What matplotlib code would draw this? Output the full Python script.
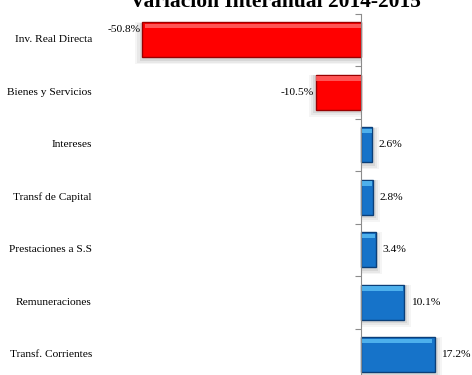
import matplotlib.pyplot as plt
import numpy as np

# variación interanual por concepto de gasto
categorias = ["Inv. Real Directa", "Bienes y Servicios", "Intereses",
              "Transf de Capital", "Prestaciones a S.S", "Remuneraciones",
              "Transf. Corrientes"]
variacion = [-50.8, -10.5, 2.6, 2.8, 3.4, 10.1, 17.2]

plt.rcParams['font.family'] = ['Liberation Serif', 'DejaVu Serif']

fig = plt.figure(figsize=(4.72, 3.75), dpi=100)
ax = fig.add_axes([100 / 472, -0.016, 372 / 472, 0.98])

y = np.arange(len(categorias))
alto = 0.66

for yi, v in zip(y, variacion):
    if v < 0:
        cara, borde, brillo = "#ff0000", "#9a0000", "#ff6a6a"
    else:
        cara, borde, brillo = "#1673c9", "#0b3f78", "#5cc0f5"
    # sombra difusa
    for k, a in enumerate([0.07, 0.05, 0.04]):
        d = 0.6 + k * 0.5
        ax.barh(yi + 0.04 + k * 0.015, v + np.sign(v) * d, height=alto + 0.06 + k * 0.04,
                color="black", alpha=a, lw=0, zorder=1)
    ax.barh(yi, v, height=alto, color=cara, edgecolor=borde, lw=1.0, zorder=2)
    # brillo superior del bisel
    ax.barh(yi - alto / 2 + 0.07, v * 0.96 if v > 0 else v * 0.985, height=0.09,
            color=brillo, lw=0, alpha=0.8, zorder=3)
    if v < 0:
        ax.text(v - 0.4, yi - (0.2 if v < -40 else 0), f"{v:.1f}%", ha="right",
                va="center", fontsize=8.2, zorder=4)
    else:
        ax.text(v + 1.5, yi, f"{v:.1f}%", ha="left", va="center",
                fontsize=8.2, zorder=4)

ax.set_xlim(-60.6, 25.8)
ax.set_ylim(len(categorias) - 0.5, -0.5)

for s in ["top", "right", "bottom"]:
    ax.spines[s].set_visible(False)
ax.spines["left"].set_position(("data", 0))
ax.spines["left"].set_color("#8c8c8c")
ax.spines["left"].set_zorder(5)
ax.set_xticks([])
ax.set_yticks(np.arange(-0.5, len(categorias) - 0.4, 1.0))
ax.set_yticklabels([])
ax.tick_params(axis="y", direction="out", length=4, color="#8c8c8c")

for yi, c in zip(y, categorias):
    ax.text(-0.022, yi, c, transform=ax.get_yaxis_transform(), ha="right",
            va="center", fontsize=8.2)

fig.text(0.583, 1 - 7 / 375, "Variación Interanual 2014-2015", ha="center",
         va="baseline", fontsize=15.5, fontweight="bold")

fig.savefig("out.png", dpi=100)
